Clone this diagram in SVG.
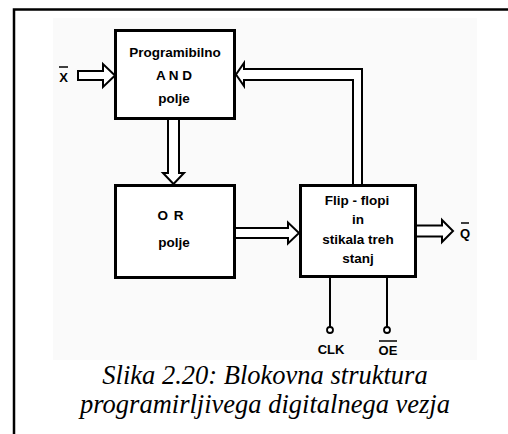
<svg xmlns="http://www.w3.org/2000/svg" width="508" height="434" viewBox="0 0 508 434">
  <style>
    .frame { fill: none; stroke: #000; stroke-width: 2.5; }
    .box { fill: #fff; stroke: #000; stroke-width: 3; }
    .bus { fill: #fff; stroke: #000; stroke-width: 2; stroke-linejoin: miter; }
    .wire { fill: none; stroke: #000; stroke-width: 2; }
    .pin { fill: #fff; stroke: #000; stroke-width: 1.8; }
    .lbl { font-family: "Liberation Sans", Arial, sans-serif; font-weight: bold; font-size: 13.5px; fill: #000; text-anchor: middle; }
    .sig { font-family: "Liberation Sans", Arial, sans-serif; font-weight: bold; font-size: 13px; fill: #000; text-anchor: middle; }
    .cap { font-family: "Liberation Serif", "Times New Roman", serif; font-style: italic; font-size: 26.5px; fill: #000; text-anchor: middle; }
  </style>

  <rect x="0" y="0" width="508" height="434" fill="#fff"/>
  <!-- faint paper tone behind the drawing -->
  <rect x="53" y="18" width="424" height="342" fill="#fafafa"/>

  <!-- outer frame: top and left edges only -->
  <path class="frame" d="M14 434 V9.5 H508"/>

  <!-- buses and control lines -->
  <g id="connectors">
    <!-- X input bus -->
    <path class="bus" d="M78 71 H103 V64 L115 75.5 L103 87 V80 H78 Z"/>
    <!-- AND -> OR bus -->
    <path class="bus" d="M168 119 V173 H163 L173.5 184 L184 173 H179 V119"/>
    <!-- OR -> flip-flop bus -->
    <path class="bus" d="M234 228 H288 V222.5 L299 233 L288 243.5 V238 H234"/>
    <!-- flip-flop -> Q output bus -->
    <path class="bus" d="M416 225.5 H442 V220 L453 231 L442 242 V236.5 H416"/>
    <!-- feedback bus to AND array -->
    <path class="bus" d="M362 185 V69 H244 V63 L236 74.5 L244 86 V80 H353 V185"/>
    <!-- CLK and OE lines -->
    <line class="wire" x1="330" y1="277" x2="330" y2="327"/>
    <line class="wire" x1="387" y1="277" x2="387" y2="327"/>
    <circle class="pin" cx="330" cy="330" r="3"/>
    <circle class="pin" cx="387" cy="330" r="3"/>
  </g>

  <g id="and-array">
    <rect class="box" x="115.5" y="30.5" width="119" height="88"/>
    <text class="lbl" x="175" y="57">Programibilno</text>
    <text class="lbl" x="174" y="80">A N D</text>
    <text class="lbl" x="174" y="103">polje</text>
  </g>

  <g id="or-array">
    <rect class="box" x="115.5" y="185.5" width="119" height="92"/>
    <text class="lbl" x="171" y="220" letter-spacing="1">O R</text>
    <text class="lbl" x="174" y="247">polje</text>
  </g>

  <g id="flipflops">
    <rect class="box" x="300.5" y="185.5" width="115" height="91"/>
    <text class="lbl" x="357" y="205">Flip - flopi</text>
    <text class="lbl" x="358" y="224">in</text>
    <text class="lbl" x="358" y="244">stikala treh</text>
    <text class="lbl" x="358" y="263">stanj</text>
  </g>

  <g id="signals">
    <text class="sig" x="63.5" y="82">X</text>
    <line x1="59" y1="67" x2="68" y2="67" stroke="#000" stroke-width="1.5"/>
    <text class="sig" x="465" y="238">Q</text>
    <line x1="461" y1="223" x2="469" y2="223" stroke="#000" stroke-width="1.5"/>
    <text class="sig" x="331" y="354">CLK</text>
    <text class="sig" x="388" y="355">OE</text>
    <line x1="379" y1="341" x2="397" y2="341" stroke="#000" stroke-width="1.5"/>
  </g>

  <g id="caption">
    <text class="cap" x="265" y="384">Slika 2.20: Blokovna struktura</text>
    <text class="cap" x="265" y="413">programirljivega digitalnega vezja</text>
  </g>
</svg>
